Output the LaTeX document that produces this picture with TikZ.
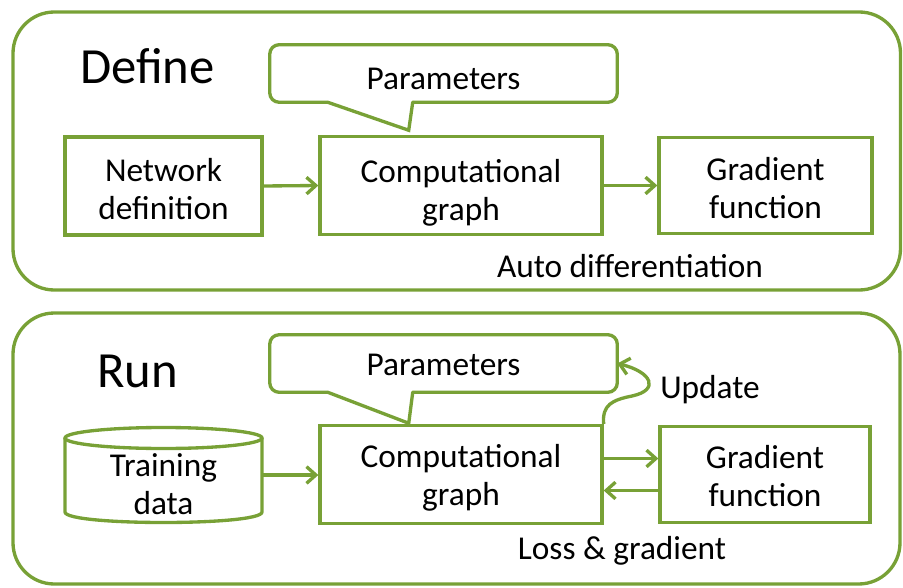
\documentclass[tikz,border=0pt]{standalone}
\usepackage{fontspec}
\setmainfont{Carlito}
\usetikzlibrary{arrows.meta}
\definecolor{leaf}{RGB}{120,161,54}
\begin{document}
\begin{tikzpicture}[x=0.75pt,y=-0.75pt,
  line/.style={draw=leaf, line width=2.5pt},
  box/.style={line, rectangle, inner sep=0pt},
  txt/.style={inner sep=0pt, align=center, anchor=north,
    font=\fontsize{25}{28.5}\selectfont},
  caption/.style={inner sep=0pt, anchor=base, font=\fontsize{25}{28.5}\selectfont},
  heading/.style={inner sep=0pt, anchor=base, font=\fontsize{38}{44}\selectfont},
  arr/.style={line, -{Straight Barb[length=7pt,width=12.5pt]}},
  frame/.style={line, rounded corners=31pt},
  bubble/.style={line, rounded corners=7pt, line cap=round, line join=round},
  tail/.style={line, line cap=round, line join=miter}]
\useasboundingbox (0,0) rectangle (903,588);

% ---------- Define phase ----------
\draw[frame] (13,12) rectangle (900.5,290);
\node[heading] (define) at (147.5,84) {Define};

\node[box, minimum width=147.75pt, minimum height=73.5pt] (net) at (163.5,186) {};
\node[txt] (net-t) at (163.5,158) {Network\\definition};
\node[box, minimum width=211.5pt, minimum height=73pt] (comp1) at (461,185.5) {};
\node[txt] (comp1-t) at (461,159) {Computational\\graph};
\node[box, minimum width=159.75pt, minimum height=72pt] (grad1) at (765.5,185.5) {};
\node[txt] (grad1-t) at (765.5,157) {Gradient\\function};

% speech bubble holding the parameters
\node[inner sep=0pt, minimum width=260.25pt, minimum height=42.75pt] (par1) at (443.5,73.5) {};
\node[caption] (par1-t) at (443.5,90) {Parameters};
\coordinate (p1a) at ([xshift=43.5pt]par1.south west);
\coordinate (p1b) at ([xshift=107.25pt]par1.south west);
\coordinate (p1t) at ([xshift=104.25pt,yshift=-21pt]par1.south west);
\draw[bubble] (p1b) -- (par1.south east) -- (par1.north east) -- (par1.north west) -- (par1.south west) -- (p1a);
\draw[tail] (p1a) -- (p1t) -- (p1b);

\draw[arr] (net.east) -- (comp1.west);
\draw[arr] (comp1.east) -- (grad1.west);
\node[caption] (autodiff) at (630,277) {Auto differentiation};

% ---------- Run phase ----------
\draw[frame] (13,313) rectangle (900,584);
\node[heading] (run) at (137.5,387) {Run};

% database cylinder
\node[inner sep=0pt, minimum width=147.75pt, minimum height=56pt] (data) at (163.5,475) {};
\node[txt] (data-t) at (163.5,453) {Training\\data};
\draw[line] (163.5,438) ellipse [x radius=98.5, y radius=10.5];
\draw[line] (65,438) -- (65,512) .. controls (65,526) and (262,526) .. (262,512) -- (262,438);

\node[box, minimum width=211.5pt, minimum height=73.5pt] (comp2) at (461,474.5) {};
\node[txt] (comp2-t) at (461,444) {Computational\\graph};
\node[box, minimum width=157.5pt, minimum height=72pt] (grad2) at (765,474.5) {};
\node[txt] (grad2-t) at (765,445) {Gradient\\function};

\node[inner sep=0pt, minimum width=260.25pt, minimum height=42.75pt] (par2) at (443.5,363.5) {};
\node[caption] (par2-t) at (443.5,375) {Parameters};
\coordinate (p2a) at ([xshift=43.5pt]par2.south west);
\coordinate (p2b) at ([xshift=107.25pt]par2.south west);
\coordinate (p2t) at ([xshift=104.25pt,yshift=-23.25pt]par2.south west);
\draw[bubble] (p2b) -- (par2.south east) -- (par2.north east) -- (par2.north west) -- (par2.south west) -- (p2a);
\draw[tail] (p2a) -- (p2t) -- (p2b);

\draw[arr] (data.east) -- (data.east -| comp2.west);
\draw[arr] ([yshift=12pt]comp2.east) -- ([yshift=12pt]grad2.west);
\draw[arr] ([yshift=-12pt]grad2.west) -- ([yshift=-12pt]comp2.east);

\draw[arr] (comp2.north east) .. controls (602,405) and (612,400) .. (632,396)
  .. controls (660,390) and (652,372) .. (par2.east);
\node[caption] (update) at (710,398) {Update};
\node[caption] (lossgrad) at (622,559) {Loss \& gradient};
\end{tikzpicture}
\end{document}
